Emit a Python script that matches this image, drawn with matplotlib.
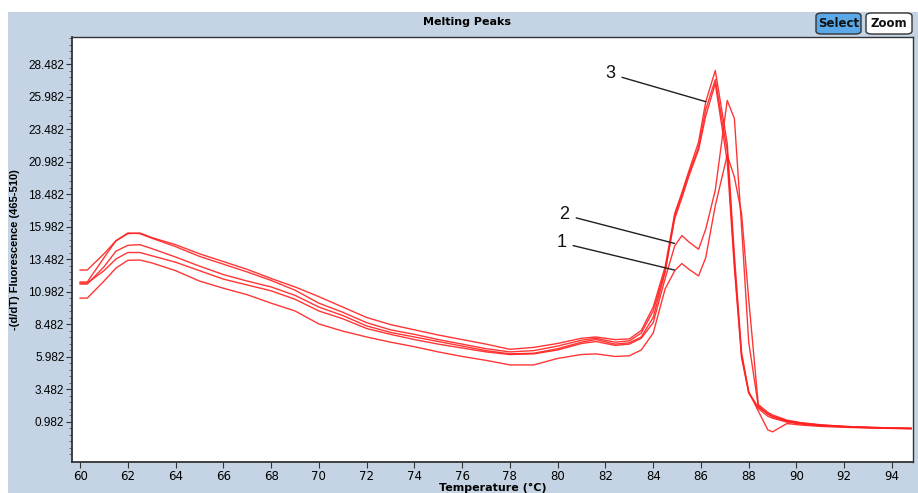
import matplotlib.pyplot as plt
from matplotlib.patches import Rectangle, FancyBboxPatch
import numpy as np

# temperature grid (°C) shared by all five melt curves
temps = [60.0, 60.3, 61.0, 61.5, 62.0, 62.5, 63.0, 64.0, 65.0, 66.0, 67.0, 68.0,
         69.0, 70.0, 71.0, 72.0, 73.0, 74.0, 75.0, 76.0, 77.0, 78.0, 79.0, 80.0,
         81.0, 81.6, 82.4, 83.0, 83.5, 84.0, 84.5, 84.9, 85.2, 85.5, 85.9, 86.2,
         86.6, 87.1, 87.4, 87.7, 88.0, 88.4, 88.8, 89.0, 89.6, 90.2, 91.0, 92.0,
         93.0, 94.0, 94.8]

# -(d/dT) fluorescence
curve_a = [12.65, 12.65, 13.9, 14.9, 15.45, 15.5, 15.15, 14.6, 13.9, 13.3, 12.7, 12.0,
           11.35, 10.6, 9.8, 9.0, 8.45, 8.05, 7.65, 7.3, 6.95, 6.55, 6.7, 7.0,
           7.4, 7.5, 7.3, 7.35, 8.0, 9.8, 12.9, 17.0, 18.6, 20.3, 22.5, 25.6,
           28.0, 22.4, 13.8, 6.3, 3.3, 1.8, 0.35, 0.2, 0.84, 0.72, 0.62, 0.55,
           0.5, 0.46, 0.44]
curve_b = [11.73, 11.73, 13.6, 14.9, 15.5, 15.45, 15.1, 14.45, 13.7, 13.1, 12.5, 11.85,
           11.1, 10.1, 9.4, 8.6, 8.05, 7.7, 7.3, 6.95, 6.6, 6.35, 6.45, 6.8,
           7.25, 7.4, 7.1, 7.2, 7.8, 9.5, 12.6, 16.6, 18.2, 19.9, 21.9, 24.5,
           27.0, 21.0, 12.8, 5.9, 3.2, 2.1, 1.6, 1.4, 1.05, 0.88, 0.72, 0.62,
           0.55, 0.5, 0.47]
curve_c = [11.57, 11.57, 12.9, 14.1, 14.55, 14.6, 14.3, 13.65, 12.95, 12.3, 11.8, 11.35,
           10.7, 9.8, 9.15, 8.35, 7.85, 7.5, 7.15, 6.8, 6.45, 6.2, 6.25, 6.6,
           7.1, 7.3, 6.95, 7.05, 7.5, 9.0, 12.5, 16.8, 18.4, 20.1, 22.1, 25.0,
           27.3, 21.8, 13.2, 6.1, 3.2, 2.0, 1.4, 1.25, 0.95, 0.8, 0.68, 0.58,
           0.52, 0.48, 0.45]
curve_2 = [11.65, 11.65, 12.6, 13.5, 14.0, 14.0, 13.75, 13.25, 12.6, 11.95, 11.5, 11.05,
           10.4, 9.5, 8.9, 8.15, 7.7, 7.3, 6.95, 6.65, 6.35, 6.15, 6.2, 6.5,
           7.0, 7.15, 6.85, 6.95, 7.4, 8.6, 12.0, 14.5, 15.3, 14.8, 14.25, 15.8,
           18.8, 25.7, 24.3, 16.0, 7.1, 2.2, 1.55, 1.35, 1.0, 0.85, 0.7, 0.6,
           0.53, 0.48, 0.46]
curve_1 = [10.49, 10.49, 11.8, 12.8, 13.4, 13.42, 13.2, 12.6, 11.8, 11.25, 10.75, 10.1,
           9.5, 8.5, 7.95, 7.5, 7.1, 6.75, 6.35, 6.0, 5.7, 5.35, 5.35, 5.85,
           6.15, 6.2, 6.0, 6.05, 6.5, 7.8, 11.2, 12.6, 13.15, 12.7, 12.2, 13.6,
           17.6, 21.5, 19.8, 17.0, 10.4, 2.3, 1.7, 1.5, 1.1, 0.9, 0.75, 0.62,
           0.55, 0.5, 0.47]

y_ticks = [0.982 + 2.5 * k for k in range(12)]
x_ticks = list(range(60, 95, 2))

# curve labels: text, label position, point on curve
labels = ['3', '2', '1']
label_pos = [(82.2, 27.74), (80.28, 16.9), (80.15, 14.75)]
label_tip = [(86.21, 25.6), (84.89, 14.7), (84.89, 12.65)]

bg = '#c4d4e4'

fig = plt.figure(figsize=(9.18, 4.93), dpi=100)
fig.patch.set_facecolor(bg)
fig.add_artist(Rectangle((0, 1 - 12 / 493), 1, 12 / 493, transform=fig.transFigure,
                         facecolor='white', edgecolor='none', zorder=0))
fig.add_artist(Rectangle((0, 0), 8 / 918, 1, transform=fig.transFigure,
                         facecolor='white', edgecolor='none', zorder=0))

ax = fig.add_axes([72 / 918, 31 / 493, 841 / 918, 425 / 493])
ax.set_facecolor('white')

for c in [curve_a, curve_b, curve_c, curve_2, curve_1]:
    ax.plot(temps, c, color='#ff2020', linewidth=1.0, alpha=0.9)

for txt, pos, tip in zip(labels, label_pos, label_tip):
    ax.annotate(txt, xy=tip, xytext=pos, ha='center', va='center', fontsize=13,
                family='Liberation Sans', color='#111111',
                arrowprops=dict(arrowstyle='-', color='#202020', lw=1.0,
                                shrinkA=3, shrinkB=0))

ax.set_xlim(59.66, 94.88)
ax.set_ylim(-2.12, 30.58)
ax.set_xticks(x_ticks)
ax.set_xticklabels([str(t) for t in x_ticks], family='DejaVu Sans', fontsize=8.5)
ax.set_yticks(y_ticks)
ax.set_yticklabels(['%.3f' % t for t in y_ticks], family='Liberation Sans', fontsize=8.5)
ax.set_yticks(np.arange(0.982 - 2.5, 30.5, 0.5), minor=True)
ax.tick_params(axis='both', which='major', direction='out', length=4, width=0.8,
               color='#333333', pad=1.5)
ax.tick_params(axis='y', which='minor', direction='out', length=2, width=0.6,
               color='#555555')
for s in ax.spines.values():
    s.set_color('#333333')
    s.set_linewidth(1.0)
ax.spines['left'].set_linewidth(1.3)
ax.spines['bottom'].set_linewidth(1.3)

ax.set_xlabel('Temperature (°C)', family='DejaVu Sans', fontsize=8, fontweight='bold',
              labelpad=0)
ax.set_ylabel('-(d/dT) Fluorescence (465-510)', family='Liberation Sans', fontsize=8,
              fontweight='bold', labelpad=6)

fig.text(467 / 918, 1 - 22 / 493, 'Melting Peaks', ha='center', va='center',
         family='DejaVu Sans', fontsize=8, fontweight='bold')

# Select / Zoom buttons
for x0, w, txt, fc in [(816, 45, 'Select', '#5aa8e8'), (866, 46, 'Zoom', 'white')]:
    fig.add_artist(FancyBboxPatch((x0 / 918, 1 - 34 / 493), w / 918, 21 / 493,
                                  boxstyle='round,pad=0,rounding_size=0.006',
                                  transform=fig.transFigure, facecolor=fc,
                                  edgecolor='#333333', linewidth=1.0))
    fig.text((x0 + w / 2) / 918, 1 - 23.5 / 493, txt, ha='center', va='center',
             family='DejaVu Sans', fontsize=8.5, fontweight='bold', color='#111111')

fig.savefig('out.png', dpi=100, facecolor=fig.get_facecolor())
